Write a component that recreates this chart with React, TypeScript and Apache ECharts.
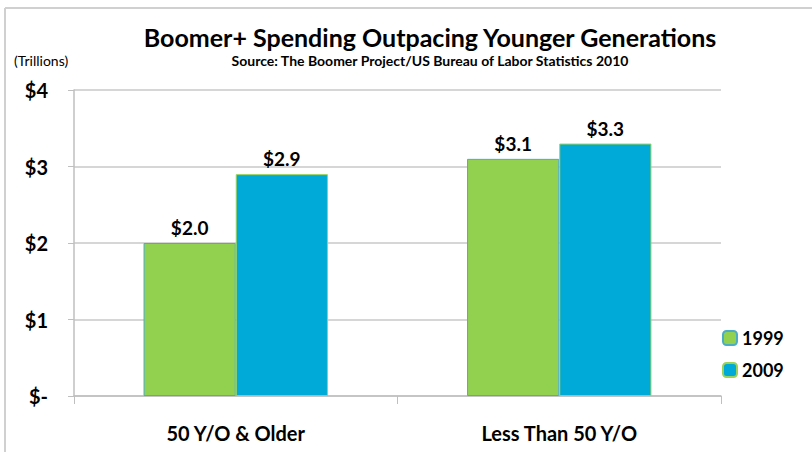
import React, { useEffect, useRef } from "react";
import * as echarts from "echarts";

const categories = ["50 Y/O & Older", "Less Than 50 Y/O"];
const seriesNames = ["1999", "2009"];
const values1999 = [2.0, 3.1];
const values2009 = [2.9, 3.3];
const yTicks = [0, 1, 2, 3, 4];

const FONT = "Lato";
const GREEN = "#92D050";
const BLUE = "#00AAD8";

export default function App() {
  const ref = useRef<HTMLDivElement>(null);
  useEffect(() => {
    const chart = echarts.init(ref.current!, null, { renderer: "svg" });
    const labelFmt = (p: any) => "$" + Number(p.value).toFixed(1);
    chart.setOption({
      animation: false,
      backgroundColor: "#fff",
      textStyle: { fontFamily: FONT },
      title: [
        {
          text: "Boomer+ Spending Outpacing Younger Generations",
          left: 425,
          top: 19,
          textAlign: "center",
          textStyle: { fontFamily: FONT, fontSize: 25, fontWeight: "bold", color: "#000" },
        },
        {
          text: "Source: The Boomer Project/US Bureau of Labor Statistics 2010",
          left: 425,
          top: 48,
          textAlign: "center",
          textStyle: { fontFamily: FONT, fontSize: 14, fontWeight: "bold", color: "#000" },
        },
        {
          text: "(Trillions)",
          left: 9,
          top: 48,
          textStyle: { fontFamily: FONT, fontSize: 14, fontWeight: "normal", color: "#000" },
        },
      ],
      graphic: [
        { type: "line", shape: { x1: 5, y1: 8, x2: 812, y2: 8 }, style: { stroke: "#d0d0d0", lineWidth: 2 } },
        { type: "line", shape: { x1: 5, y1: 8, x2: 5, y2: 452 }, style: { stroke: "#d0d0d0", lineWidth: 2 } },
      ],
      legend: {
        orient: "vertical",
        left: 717,
        top: 324,
        itemWidth: 14,
        itemHeight: 14,
        itemGap: 14,
        textStyle: { fontFamily: FONT, fontSize: 18, fontWeight: "bold", color: "#000", padding: [0, 0, 0, 0] },
        data: seriesNames,
      },
      grid: { left: 74, right: 91, top: 90, bottom: 56, containLabel: false },
      xAxis: {
        type: "category",
        data: categories,
        axisLine: { show: true, lineStyle: { color: "#bfbfbf", width: 1.5 } },
        axisTick: { show: true, length: 8, interval: 0, alignWithLabel: false, lineStyle: { color: "#bfbfbf" } },
        axisLabel: { fontFamily: FONT, fontSize: 20, fontWeight: "bold", color: "#000", margin: 27 },
      },
      yAxis: {
        type: "value",
        min: 0,
        max: 4,
        interval: 1,
        axisLine: { show: true, lineStyle: { color: "#bfbfbf", width: 1.5 } },
        axisTick: { show: true, length: 6, lineStyle: { color: "#bfbfbf" } },
        splitLine: { show: true, lineStyle: { color: "#c8c8c8", width: 1.5 } },
        axisLabel: {
          fontFamily: FONT,
          fontSize: 20,
          fontWeight: "bold",
          color: "#000",
          margin: 26,
          formatter: (v: number) => (yTicks.includes(v) && v === 0 ? "$-" : "$" + v),
        },
      },
      series: [
        {
          name: seriesNames[0],
          type: "bar",
          data: values1999,
          barGap: "0%",
          barCategoryGap: "43%",
          itemStyle: { color: GREEN, borderColor: "#4BACC6", borderWidth: 1 },
          label: { show: true, position: "top", distance: 6, formatter: labelFmt, fontFamily: FONT, fontSize: 19, fontWeight: "bold", color: "#000" },
        },
        {
          name: seriesNames[1],
          type: "bar",
          data: values2009,
          itemStyle: { color: BLUE, borderColor: "#9BD35A", borderWidth: 1 },
          label: { show: true, position: "top", distance: 6, formatter: labelFmt, fontFamily: FONT, fontSize: 19, fontWeight: "bold", color: "#000" },
        },
      ],
    });
    return () => chart.dispose();
  }, []);
  return <div ref={ref} style={{ width: 812, height: 452, position: "absolute", left: 0, top: 0 }} />;
}
